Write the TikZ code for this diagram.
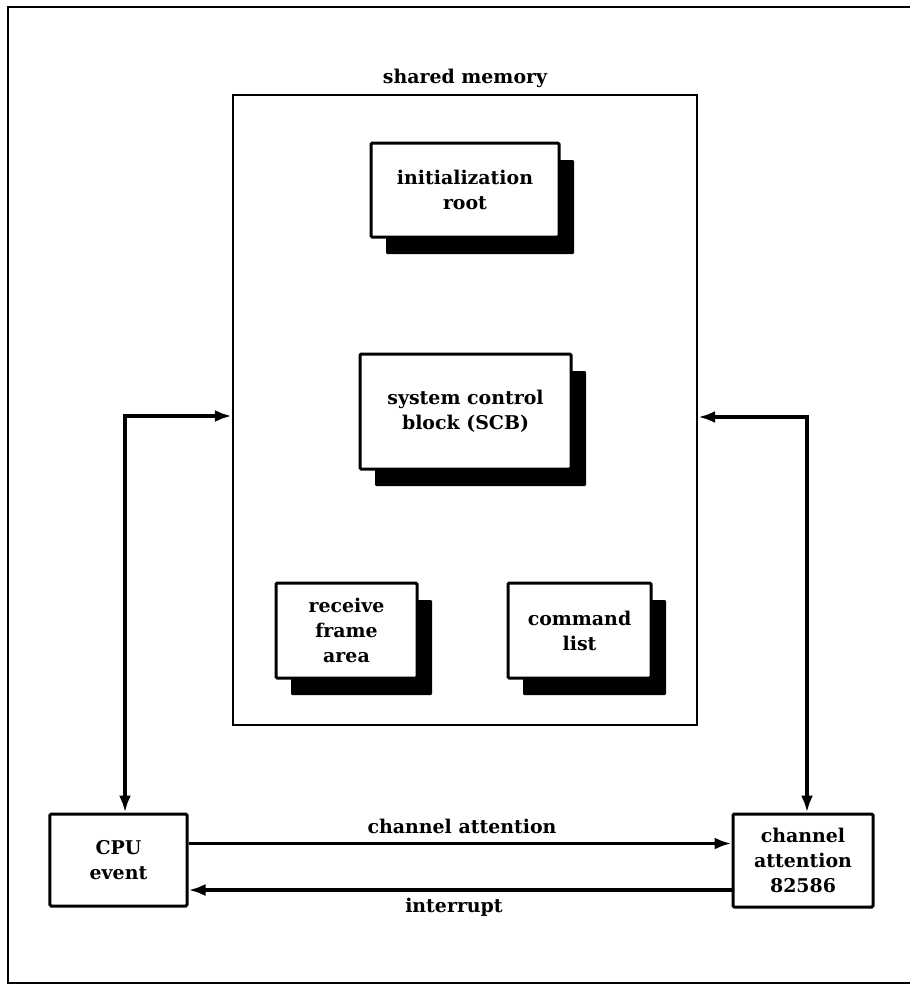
\documentclass[tikz,border=0pt]{standalone}
\usepackage{fontspec}
\setmainfont{DejaVu Serif}
\usetikzlibrary{arrows.meta,shadows}
\begin{document}
\begin{tikzpicture}[x=1bp,y=-1bp,
  every node/.style={font=\bfseries\fontsize{19}{25}\selectfont, align=center, inner sep=0pt},
  shbox/.style={draw, line width=3bp, fill=white, rounded corners=1.2bp,
    drop shadow={shadow xshift=15bp, shadow yshift=-17bp, fill=black, opacity=1}},
  plainbox/.style={draw, line width=3bp, fill=white, rounded corners=1.2bp},
  conn/.style={line width=3.4bp},
  tip/.tip={Latex[length=17bp,width=12bp]}]
\useasboundingbox (0,0) rectangle (910,985);
% outer frame (open on the right)
\draw[line width=2.2bp] (910,7) -- (8,7) -- (8,983) -- (910,983);
% shared memory
\node[draw, line width=2.4bp, minimum width=464bp, minimum height=630bp] (mem) at (465,410) {};
\node[anchor=base] (memlab) at (465,83) {shared memory};
% inner blocks
\node[shbox, minimum width=188bp, minimum height=94bp] (init) at (465,190) {initialization\\root};
\node[shbox, minimum width=211bp, minimum height=115bp] (scb) at (465.5,411.5) {system control\\block (SCB)};
\node[shbox, minimum width=141bp, minimum height=95bp] (recv) at (346.5,630.5) {receive\\frame\\area};
\node[shbox, minimum width=143bp, minimum height=95bp] (cmd) at (579.5,630.5) {command\\list};
% outside blocks
\node[plainbox, minimum width=137bp, minimum height=92bp] (cpu) at (118.5,860) {CPU\\event};
\node[plainbox, minimum width=140bp, minimum height=93bp] (ca) at (803,860.5) {channel\\attention\\82586};
% connectors
\draw[conn, tip-tip] ([xshift=6.5bp]cpu.north) |- ([yshift=-6bp]mem.west);
\draw[conn, tip-tip] ([xshift=4bp]ca.north) |- ([yshift=-7bp]mem.east);
\draw[conn, -tip] ([yshift=16.5bp]cpu.east) coordinate (c1) -- (c1 -| ca.west)
  node[midway, above=8bp, xshift=2bp] (calab) {channel attention};
\draw[conn, -tip] ([yshift=-29.5bp]ca.west) coordinate (c2) -- (c2 -| cpu.east)
  node[midway, below=6bp, xshift=-6bp] (intlab) {interrupt};
\end{tikzpicture}
\end{document}
